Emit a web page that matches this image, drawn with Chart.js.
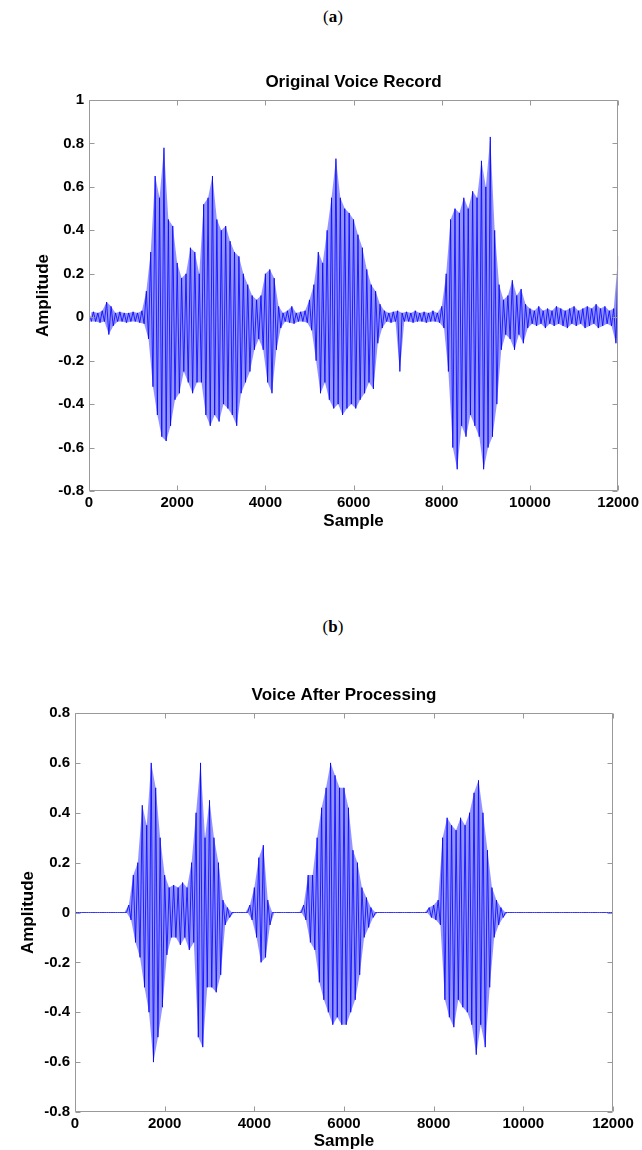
<!DOCTYPE html>
<html>
<head>
<meta charset="utf-8">
<script src="https://cdn.jsdelivr.net/npm/chart.js@4.4.0/dist/chart.umd.min.js"></script>
<style>
  html, body { margin: 0; padding: 0; background: #fff; overflow: hidden; }
  body { position: relative; width: 642px; height: 1150px; }
  .tag {
    position: absolute; left: 333px; transform: translateX(-50%);
    font: 17px/20px "Liberation Serif", "Times New Roman", serif; color: #000;
  }
  canvas { position: absolute; left: 0; }
</style>
</head>
<body>
<div class="tag" style="top:7px">(<b>a</b>)</div>
<canvas id="voiceRaw" width="642" height="545" style="top:0"></canvas>
<div class="tag" style="top:617px">(<b>b</b>)</div>
<canvas id="voiceClean" width="642" height="560" style="top:590px"></canvas>
<script>
// one peak and one trough per block of 100 samples
const blockSize = 100
const sampleTicks = [0, 2000, 4000, 6000, 8000, 10000, 12000]

const rawPeaks = [
  0.02, 0.025, 0.02, 0.03, 0.07, 0.05, 0.02, 0.025, 0.02, 0.02,
  0.025, 0.02, 0.03, 0.12, 0.3, 0.65, 0.55, 0.78, 0.45, 0.42,
  0.25, 0.18, 0.2, 0.32, 0.3, 0.2, 0.52, 0.55, 0.65, 0.45,
  0.4, 0.42, 0.35, 0.3, 0.28, 0.2, 0.15, 0.1, 0.08, 0.1,
  0.2, 0.22, 0.18, 0.05, 0.02, 0.03, 0.05, 0.02, 0.025, 0.03,
  0.08, 0.15, 0.3, 0.25, 0.4, 0.55, 0.73, 0.55, 0.5, 0.48,
  0.45, 0.38, 0.32, 0.22, 0.15, 0.12, 0.06, 0.03, 0.02, 0.025,
  0.03, 0.02, 0.025, 0.02, 0.03, 0.02, 0.025, 0.02, 0.03, 0.02,
  0.05, 0.2, 0.45, 0.5, 0.48, 0.55, 0.5, 0.58, 0.55, 0.72,
  0.6, 0.83, 0.4, 0.15, 0.08, 0.1, 0.17, 0.1, 0.13, 0.06,
  0.04, 0.03, 0.05, 0.03, 0.04, 0.03, 0.05, 0.04, 0.03, 0.04,
  0.05, 0.03, 0.04, 0.05, 0.04, 0.06, 0.04, 0.05, 0.03, 0.04,
  0.28
]
const rawTroughs = [
  -0.02, -0.02, -0.025, -0.02, -0.08, -0.04, -0.02, -0.02, -0.025, -0.02,
  -0.02, -0.025, -0.03, -0.1, -0.32, -0.45, -0.55, -0.57, -0.5, -0.38,
  -0.35, -0.25, -0.3, -0.35, -0.3, -0.3, -0.45, -0.5, -0.45, -0.48,
  -0.4, -0.42, -0.45, -0.5, -0.35, -0.3, -0.25, -0.15, -0.1, -0.15,
  -0.3, -0.35, -0.15, -0.05, -0.02, -0.025, -0.03, -0.02, -0.02, -0.025,
  -0.06, -0.2, -0.35, -0.3, -0.38, -0.42, -0.4, -0.45, -0.42, -0.4,
  -0.42, -0.38, -0.35, -0.3, -0.33, -0.12, -0.05, -0.02, -0.025, -0.02,
  -0.25, -0.02, -0.02, -0.025, -0.02, -0.02, -0.025, -0.02, -0.02, -0.025,
  -0.05, -0.25, -0.6, -0.7, -0.5, -0.55, -0.45, -0.5, -0.55, -0.7,
  -0.6, -0.55, -0.4, -0.15, -0.08, -0.1, -0.15, -0.08, -0.12, -0.05,
  -0.03, -0.04, -0.03, -0.05, -0.03, -0.04, -0.03, -0.04, -0.05, -0.03,
  -0.04, -0.03, -0.05, -0.04, -0.03, -0.05, -0.04, -0.03, -0.04, -0.12,
  0
]

const cleanPeaks = [
  0, 0, 0, 0, 0, 0, 0, 0, 0, 0,
  0, 0, 0.03, 0.15, 0.2, 0.43, 0.35, 0.6, 0.5, 0.3,
  0.15, 0.1, 0.11, 0.1, 0.12, 0.1, 0.2, 0.4, 0.6, 0.3,
  0.45, 0.3, 0.2, 0.05, 0.02, 0, 0, 0, 0, 0.03,
  0.1, 0.22, 0.27, 0.05, 0, 0, 0, 0, 0, 0,
  0, 0.03, 0.15, 0.15, 0.3, 0.42, 0.5, 0.6, 0.55, 0.5,
  0.5, 0.42, 0.25, 0.2, 0.1, 0.06, 0.02, 0, 0, 0,
  0, 0, 0, 0, 0, 0, 0, 0, 0, 0.02,
  0.03, 0.05, 0.3, 0.38, 0.35, 0.33, 0.38, 0.35, 0.4, 0.48,
  0.53, 0.4, 0.25, 0.1, 0.05, 0.02, 0, 0, 0, 0,
  0, 0, 0, 0, 0, 0, 0, 0, 0, 0,
  0, 0, 0, 0, 0, 0, 0, 0, 0, 0,
  0
]
const cleanTroughs = [
  0, 0, 0, 0, 0, 0, 0, 0, 0, 0,
  0, 0, -0.03, -0.12, -0.18, -0.3, -0.4, -0.6, -0.5, -0.38,
  -0.17, -0.1, -0.1, -0.13, -0.1, -0.15, -0.12, -0.5, -0.54, -0.3,
  -0.3, -0.32, -0.25, -0.05, -0.02, 0, 0, 0, 0, -0.03,
  -0.1, -0.2, -0.18, -0.05, 0, 0, 0, 0, 0, 0,
  0, -0.03, -0.12, -0.15, -0.28, -0.35, -0.4, -0.45, -0.42, -0.45,
  -0.45, -0.4, -0.35, -0.25, -0.1, -0.06, -0.02, 0, 0, 0,
  0, 0, 0, 0, 0, 0, 0, 0, 0, -0.02,
  -0.03, -0.05, -0.35, -0.42, -0.46, -0.35, -0.38, -0.4, -0.45, -0.57,
  -0.45, -0.54, -0.3, -0.1, -0.05, -0.02, 0, 0, 0, 0,
  0, 0, 0, 0, 0, 0, 0, 0, 0, 0,
  0, 0, 0, 0, 0, 0, 0, 0, 0, 0,
  0
]

Chart.defaults.font.family = '"Liberation Sans", Arial, sans-serif'
Chart.defaults.color = '#000'

// peaks sit at the block start, troughs half a block later
const peakPoints = peaks => peaks.map((v, i) => ({ x: i * blockSize, y: v }))
const troughPoints = troughs => troughs.map((v, i) => ({ x: i * blockSize + blockSize / 2, y: v }))
const zigzag = (peaks, troughs) => peaks.flatMap((v, i) => [
  { x: i * blockSize, y: v },
  { x: i * blockSize + blockSize / 2, y: troughs[i] }
])

// box with inward ticks on all four sides
const frame = {
  id: 'frame',
  afterDatasetsDraw (chart) {
    const { ctx, chartArea: { left, right, top, bottom }, scales: { x, y } } = chart
    const l = Math.round(left) + 0.5
    const r = Math.round(right) - 0.5
    const t = Math.round(top) + 0.5
    const b = Math.round(bottom) - 0.5
    ctx.save()
    ctx.strokeStyle = '#999'
    ctx.lineWidth = 1
    ctx.beginPath()
    ctx.rect(l, t, r - l, b - t)
    x.ticks.forEach(tk => {
      const px = Math.round(x.getPixelForValue(tk.value)) + 0.5
      ctx.moveTo(px, b); ctx.lineTo(px, b - 5)
      ctx.moveTo(px, t); ctx.lineTo(px, t + 5)
    })
    y.ticks.forEach(tk => {
      const py = Math.round(y.getPixelForValue(tk.value)) + 0.5
      ctx.moveTo(l, py); ctx.lineTo(l + 5, py)
      ctx.moveTo(r, py); ctx.lineTo(r - 5, py)
    })
    ctx.stroke()
    ctx.restore()
  }
}

const tickFont = { size: 15, weight: 'bold' }
const labelFont = { size: 17, weight: 'bold', lineHeight: 1 }

const drawVoice = (canvasId, peaks, troughs, cfg) => {
  new Chart(document.getElementById(canvasId), { // eslint-disable-line
    type: 'line',
    data: {
      datasets: [{
        // spread of the waveform inside each block
        data: peakPoints(peaks),
        borderWidth: 0,
        pointRadius: 0,
        backgroundColor: 'rgba(0, 0, 255, 0.42)',
        fill: '+1'
      }, {
        data: troughPoints(troughs),
        borderWidth: 0,
        pointRadius: 0,
        fill: false
      }, {
        data: zigzag(peaks, troughs),
        borderColor: 'rgba(0, 0, 255, 0.8)',
        borderWidth: 1,
        pointRadius: 0,
        fill: false
      }]
    },
    options: {
      responsive: false,
      animation: false,
      events: [],
      elements: { line: { tension: 0 } },
      layout: { padding: { top: 0, right: cfg.padRight, bottom: 0, left: 0 } },
      plugins: {
        legend: { display: false },
        tooltip: { enabled: false },
        title: {
          display: true,
          fullSize: false,
          text: cfg.title,
          color: '#000',
          font: labelFont,
          padding: { top: cfg.titleTop, bottom: cfg.titleBottom }
        }
      },
      scales: {
        x: {
          type: 'linear',
          min: 0,
          max: 12000,
          afterBuildTicks: s => { s.ticks = sampleTicks.map(v => ({ value: v })) },
          afterFit: s => { s.height = cfg.xHeight },
          grid: { display: false, drawTicks: false },
          border: { display: false },
          ticks: { padding: 3, maxRotation: 0, autoSkip: false, font: tickFont, callback: v => String(v) },
          title: { display: true, text: 'Sample', font: labelFont, padding: { top: 0, bottom: cfg.xTitleBottom } }
        },
        y: {
          min: cfg.yMin,
          max: cfg.yMax,
          afterFit: s => { s.width = cfg.yWidth },
          grid: { display: false, drawTicks: false },
          border: { display: false },
          ticks: { stepSize: 0.2, padding: 5, font: tickFont, callback: v => String(Math.round(v * 10) / 10) },
          title: { display: true, text: 'Amplitude', font: labelFont, padding: { top: cfg.yTitleTop, bottom: 0 } }
        }
      }
    },
    plugins: [frame]
  })
}

drawVoice('voiceRaw', rawPeaks, rawTroughs, {
  title: 'Original Voice Record',
  yMin: -0.8,
  yMax: 1,
  padRight: 23,
  titleTop: 73.5,
  titleBottom: 9.5,
  xHeight: 54,
  xTitleBottom: 15.5,
  yWidth: 89,
  yTitleTop: 34.5
})

drawVoice('voiceClean', cleanPeaks, cleanTroughs, {
  title: 'Voice After Processing',
  yMin: -0.8,
  yMax: 0.8,
  padRight: 29,
  titleTop: 96.5,
  titleBottom: 9.5,
  xHeight: 38,
  xTitleBottom: 0.5,
  yWidth: 75,
  yTitleTop: 19.5
})
</script>
</body>
</html>
